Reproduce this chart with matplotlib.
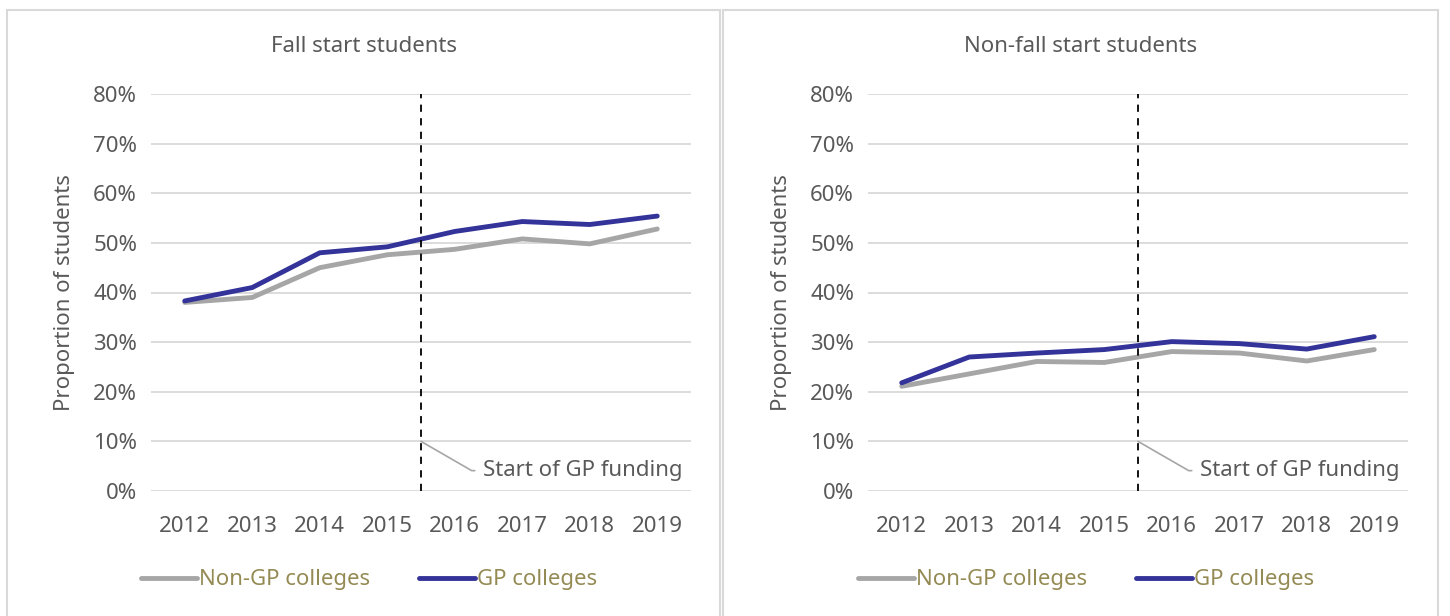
import matplotlib.pyplot as plt
import matplotlib.ticker as ticker
from matplotlib.patches import Rectangle

years = ['2012', '2013', '2014', '2015', '2016', '2017', '2018', '2019']

fall_gp = [38.3, 41.0, 48.0, 49.2, 52.3, 54.3, 53.7, 55.4]
fall_non_gp = [38.0, 39.0, 45.0, 47.6, 48.7, 50.8, 49.8, 52.8]

nonfall_gp = [21.8, 27.0, 27.8, 28.5, 30.1, 29.7, 28.6, 31.1]
nonfall_non_gp = [21.1, 23.6, 26.1, 25.9, 28.1, 27.8, 26.2, 28.5]

titles = ['Fall start students', 'Non-fall start students']
series = [(fall_non_gp, fall_gp), (nonfall_non_gp, nonfall_gp)]

GREY = '#A6A6A6'
BLUE = '#333399'
TXT = '#595959'
LEG_TXT = '#948A54'
FS = 16

plt.rcParams['font.family'] = ['Noto Sans', 'DejaVu Sans']

W, H = 1450, 616
fig = plt.figure(figsize=(W / 100, H / 100), dpi=100)

# panel frames
panels = [(7, 720), (723, 1438)]
for x0, x1 in panels:
    fig.patches.append(Rectangle((x0 / W, -0.05), (x1 - x0) / W, 1.05 - 10 / H,
                                 transform=fig.transFigure, fill=False,
                                 edgecolor='#D9D9D9', linewidth=1.5))

axes_left = [151, 868]
for i, (title, (non_gp, gp)) in enumerate(zip(titles, series)):
    left = axes_left[i]
    ax = fig.add_axes([left / W, 1 - 491 / H, 540 / W, 397 / H])
    x = range(len(years))
    ax.plot(x, non_gp, color=GREY, lw=3.5, solid_capstyle='round',
            solid_joinstyle='round', label='Non-GP colleges')
    ax.plot(x, gp, color=BLUE, lw=3.5, solid_capstyle='round',
            solid_joinstyle='round', label='GP colleges')
    ax.axvline(3.5, color='black', lw=1.3, ls=(0, (4, 3.5)))

    ax.annotate('Start of GP funding', xy=(3.5, 10), xytext=(4.42, 4.1),
                fontsize=FS, color=TXT, va='center', ha='left',
                arrowprops=dict(arrowstyle='-', color=GREY, lw=1.2,
                                shrinkA=4, shrinkB=0,
                                connectionstyle='angle,angleA=0,angleB=-30,rad=0'))

    ax.set_xlim(-0.5, 7.5)
    ax.set_ylim(0, 80)
    ax.set_xticks(list(x))
    ax.set_xticklabels(years)
    ax.yaxis.set_major_locator(ticker.MultipleLocator(10))
    ax.yaxis.set_major_formatter(ticker.StrMethodFormatter('{x:.0f}%'))
    ax.tick_params(length=0, labelsize=FS, colors=TXT, pad=10)
    ax.tick_params(axis='x', pad=18)
    ax.grid(axis='y', color='#D9D9D9', lw=1.3)
    ax.set_axisbelow(True)
    for s in ax.spines.values():
        s.set_visible(False)
    ax.set_ylabel('Proportion of students', fontsize=FS, color=TXT, labelpad=13)

    x0, x1 = panels[i]
    fig.text((x0 + x1) / 2 / W, 1 - 46 / H, title, fontsize=FS, color=TXT,
             ha='center', va='center')

    ax.legend(loc='center', bbox_to_anchor=((left + 218) / W, 1 - 580 / H),
              bbox_transform=fig.transFigure, ncol=2, frameon=False,
              fontsize=FS, labelcolor=LEG_TXT, handlelength=2.5,
              handletextpad=0.1, columnspacing=2.2)

fig.savefig('out.png', dpi=100)
